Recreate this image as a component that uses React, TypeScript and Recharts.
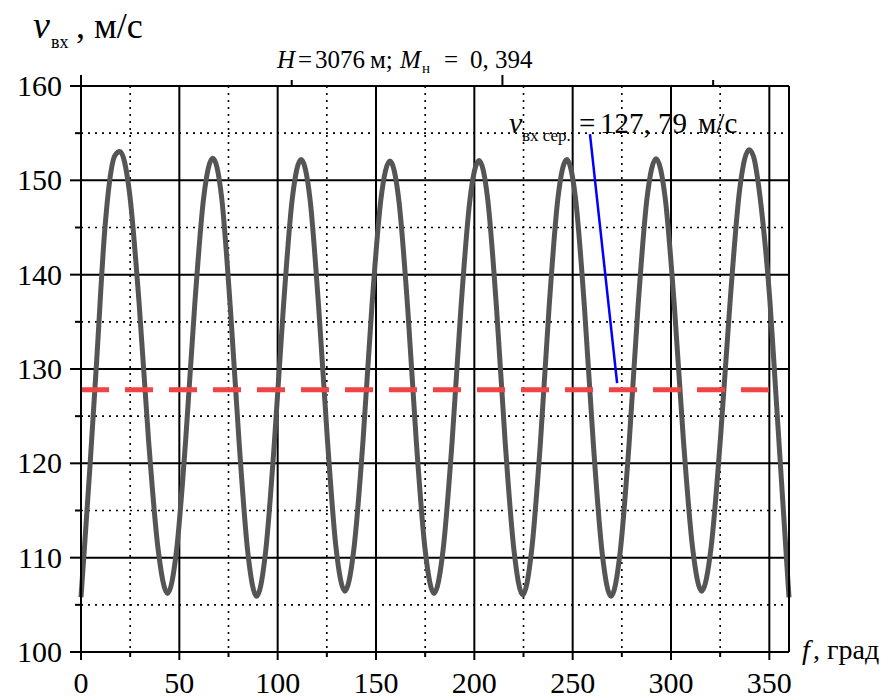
import { LineChart, Line, XAxis, YAxis, CartesianGrid, ReferenceLine } from "recharts";

// angle f, deg and inlet velocity v, m/s
const angleDeg = [
  0, 2, 4.5, 8, 12, 14.6, 17.2, 19.8, 24.6, 29.5, 34.3, 39.2,
  44.0, 48.6, 53.2, 57.8, 62.4, 67.0, 71.5, 75.9, 80.4, 84.8,
  89.3, 93.8, 98.3, 102.9, 107.4, 111.9, 116.4, 120.8, 125.3, 129.7,
  134.2, 138.8, 143.4, 147.9, 152.5, 157.1, 161.6, 166.1, 170.5, 175.0,
  179.5, 184.1, 188.7, 193.2, 197.8, 202.4, 206.8, 211.3, 215.7, 220.2,
  224.6, 229.1, 233.6, 238.0, 242.5, 247.0, 251.5, 256.0, 260.5, 265.0,
  269.5, 274.1, 278.7, 283.2, 287.8, 292.4, 297.0, 301.7, 306.3, 311.0,
  315.6, 320.4, 325.2, 330.1, 334.9, 339.7, 342.0, 344.5, 347.0, 350.3,
  353.5, 356.8, 360,
];
const speed = [
  105.8, 111.8, 119.5, 131, 144.5, 150, 152.6, 153.05, 148.8, 137.1, 122.6, 110.9,
  106.2, 110.8, 122.4, 136.7, 148.2, 152.35, 148.2, 136.6, 122.2, 110.6,
  105.9, 110.5, 122.1, 136.5, 148.0, 152.2, 148.1, 136.7, 122.5, 111.0,
  106.45, 111.0, 122.4, 136.6, 148.0, 152.05, 147.9, 136.5, 122.3, 110.8,
  106.2, 110.8, 122.3, 136.5, 148.0, 152.1, 148.0, 136.4, 122.2, 110.7,
  106.05, 110.7, 122.2, 136.5, 148.1, 152.2, 148.0, 136.5, 122.1, 110.5,
  105.9, 110.5, 122.1, 136.5, 148.1, 152.3, 148.2, 136.7, 122.5, 111.0,
  106.45, 111.1, 122.8, 137.3, 149.0, 153.25, 152.5, 149.5, 145.0, 137.2,
  126.8, 116.1, 105.8,
];
const meanSpeed = 127.79;
const meanSpan = [0, 351]; // angles covered by the dashed mean line
// pointer from the label to the mean line
const pointerFrom = { x: 258.8, y: 154.9 };
const pointerTo = { x: 272.6, y: 128.5 };

const xTicks = [0, 25, 50, 75, 100, 125, 150, 175, 200, 225, 250, 275, 300, 325, 350];
const yTicks = [100, 105, 110, 115, 120, 125, 130, 135, 140, 145, 150, 155, 160];
const xMajor = [50, 100, 150, 200, 250, 300, 350];
const xMinor = [25, 75, 125, 175, 225, 275, 325];
const yMajor = [110, 120, 130, 140, 150, 160];
const yMinor = [105, 115, 125, 135, 145, 155];

const curveData = angleDeg.map((f, i) => ({ f, v: speed[i] }));

const FONT = "Liberation Serif";

const T = ({ x, y, size, italic, anchor, children }: any) => (
  <text
    x={x}
    y={y}
    textAnchor={anchor || "start"}
    fill="#000"
    style={{ fontFamily: FONT, fontSize: size, fontStyle: italic ? "italic" : "normal" }}
  >
    {children}
  </text>
);

const BottomTick = ({ x, y, payload }: any) => {
  const major = payload.value % 50 === 0;
  return (
    <g>
      <line x1={x} y1={y} x2={x} y2={y + (major ? 8 : 5)} stroke="#000" strokeWidth={2} />
      {major && (
        <T x={x} y={y + 41} size={30} anchor="middle">
          {payload.value}
        </T>
      )}
    </g>
  );
};

const TopTick = ({ x, y, payload }: any) => {
  const major = payload.value % 50 === 0;
  return <line x1={x} y1={y} x2={x} y2={y - (major ? 11 : 6)} stroke="#000" strokeWidth={2} />;
};

const LeftTick = ({ x, y, payload }: any) => {
  const major = payload.value % 10 === 0;
  return (
    <g>
      <line x1={x} y1={y} x2={x - (major ? 11 : 6)} y2={y} stroke="#000" strokeWidth={2} />
      {major && (
        <T x={x - 19} y={y + 10} size={30} anchor="end">
          {payload.value}
        </T>
      )}
    </g>
  );
};

const RightTick = ({ x, y, payload }: any) => {
  const major = payload.value % 10 === 0;
  return <line x1={x} y1={y} x2={x + (major ? 10 : 5)} y2={y} stroke="#000" strokeWidth={2} />;
};

const axisLine = { stroke: "#000", strokeWidth: 2 };

export default function App() {
  return (
    <div style={{ position: "absolute", left: 0, top: 0, width: 894, height: 700, background: "#fff" }}>
      <LineChart
        width={894}
        height={700}
        data={curveData}
        margin={{ top: 76, right: 85, bottom: 8, left: 0 }}
      >
        <CartesianGrid
          xAxisId="b"
          yAxisId="l"
          horizontalValues={yMinor}
          verticalValues={xMinor}
          stroke="#000"
          strokeWidth={1.6}
          strokeDasharray="2 5"
        />
        <CartesianGrid
          xAxisId="b"
          yAxisId="l"
          horizontalValues={yMajor}
          verticalValues={xMajor}
          stroke="#000"
          strokeWidth={2}
        />
        <XAxis
          xAxisId="b"
          type="number"
          dataKey="f"
          domain={[0, 360]}
          ticks={xTicks}
          interval={0}
          height={40}
          tickSize={0}
          tickMargin={0}
          tickLine={false}
          axisLine={axisLine}
          tick={(p: any) => <BottomTick {...p} />}
        />
        <XAxis
          xAxisId="t"
          orientation="top"
          type="number"
          domain={[0, 360]}
          ticks={xTicks}
          interval={0}
          height={10}
          tickSize={0}
          tickMargin={0}
          tickLine={false}
          axisLine={axisLine}
          tick={(p: any) => <TopTick {...p} />}
        />
        <YAxis
          yAxisId="l"
          type="number"
          domain={[100, 160]}
          ticks={yTicks}
          interval={0}
          width={81}
          tickSize={0}
          tickMargin={0}
          tickLine={false}
          axisLine={axisLine}
          tick={(p: any) => <LeftTick {...p} />}
        />
        <YAxis
          yAxisId="r"
          orientation="right"
          type="number"
          domain={[100, 160]}
          ticks={yTicks}
          interval={0}
          width={20}
          tickSize={0}
          tickMargin={0}
          tickLine={false}
          axisLine={axisLine}
          tick={(p: any) => <RightTick {...p} />}
        />
        <Line
          xAxisId="b"
          yAxisId="l"
          type="monotone"
          dataKey="v"
          stroke="#555555"
          strokeWidth={5}
          dot={false}
          activeDot={false}
          isAnimationActive={false}
        />
        <ReferenceLine
          xAxisId="b"
          yAxisId="l"
          segment={[
            { x: meanSpan[0], y: meanSpeed },
            { x: meanSpan[1], y: meanSpeed },
          ]}
          stroke="#f04444"
          strokeWidth={5}
          strokeDasharray="28 16"
        />
        <ReferenceLine
          xAxisId="b"
          yAxisId="l"
          segment={[pointerFrom, pointerTo]}
          stroke="#0000ff"
          strokeWidth={2.5}
        />
      </LineChart>

      {/* captions */}
      <svg
        width={894}
        height={700}
        style={{ position: "absolute", left: 0, top: 0, pointerEvents: "none" }}
      >
        <T x={33} y={38} size={38} italic>v</T>
        <T x={51} y={48} size={18}>вх</T>
        <T x={76} y={38} size={36}>, м/с</T>

        <T x={277} y={68} size={25} italic>H</T>
        <T x={298} y={68} size={25}>=</T>
        <T x={315} y={68} size={25}>3076</T>
        <T x={370} y={68} size={25}>м;</T>
        <T x={400} y={68} size={25} italic>M</T>
        <T x={422} y={73} size={15}>н</T>
        <T x={444} y={68} size={25}>=</T>
        <T x={470} y={68} size={25}>0, 394</T>

        <T x={509} y={133} size={30} italic>v</T>
        <T x={522} y={141} size={17}>вх сер.</T>
        <T x={579} y={133} size={29}>=</T>
        <T x={600} y={133} size={29}>127, 79</T>
        <T x={698} y={133} size={29}>м/с</T>

        <T x={802} y={659} size={28} italic>f</T>
        <T x={813} y={659} size={28}>, град</T>
      </svg>
    </div>
  );
}
